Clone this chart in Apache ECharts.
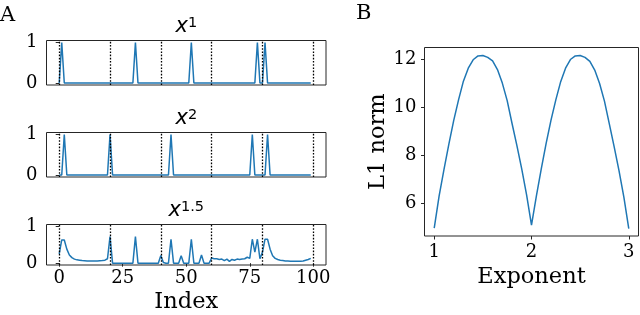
<!DOCTYPE html>
<html>
<head>
<meta charset="utf-8">
<script src="https://cdn.jsdelivr.net/npm/echarts@6/dist/echarts.min.js"></script>
<style>html,body{margin:0;padding:0;background:#fff}#c{width:640px;height:315px}</style>
</head>
<body>
<div id="c"></div>
<script>
// ---- Data ----
const indexValues = Array.from({length: 100}, (_, i) => i);
const xTickLabelsA = [0, 25, 50, 75, 100];
const yTickLabelsA = [0, 1];
const boundaryLines = [0, 20, 40, 60, 80, 100];

// x^1 : spikes
const seriesX1 = [
  0,1,0,0,0,0,0,0,0,0, 0,0,0,0,0,0,0,0,0,0,
  0,0,0,0,0,0,0,0,0,0, 1,0,0,0,0,0,0,0,0,0,
  0,0,0,0,0,0,0,0,0,0, 0,0,1,0,0,0,0,0,0,0,
  0,0,0,0,0,0,0,0,0,0, 0,0,0,0,0,0,0,0,1,0,
  0,1,0,0,0,0,0,0,0,0, 0,0,0,0,0,0,0,0,0,0
];
// x^2 : spikes
const seriesX2 = [
  0,0,1,0,0,0,0,0,0,0, 0,0,0,0,0,0,0,0,0,0,
  1,0,0,0,0,0,0,0,0,0, 0,0,0,0,0,0,0,0,0,0,
  0,0,0,0,1,0,0,0,0,0, 0,0,0,0,0,0,0,0,0,0,
  0,0,0,0,0,0,0,0,0,0, 0,0,0,0,0,0,1,0,0,0,
  0,0,1,0,0,0,0,0,0,0, 0,0,0,0,0,0,0,0,0,0
];
// x^1.5
const seriesX15 = [
  0.25,0.63,0.63,0.38,0.22,0.15,0.11,0.09,0.08,0.07,
  0.065,0.06,0.06,0.06,0.06,0.06,0.065,0.07,0.08,0.12,
  0.72,0,0,0,0,0,0,0,0,0,
  0.72,0,0,0,0,0,0,0,0,0,
  0.21,0.02,0,0,0.65,0,0,0,0.2,0,
  0,0,0.65,0,0,0,0.22,0,0,0,
  0.14,0.12,0.12,0.1,0.11,0.07,0.11,0.05,0.1,0.08,
  0.11,0.1,0.11,0.12,0.16,0.13,0.65,0.3,0.65,0.12,
  0.3,0.65,0.65,0.38,0.2,0.13,0.1,0.08,0.07,0.06,
  0.06,0.055,0.055,0.055,0.055,0.055,0.06,0.08,0.1,0.13
];

// Panel B
const exponents = Array.from({length: 41}, (_, i) => +(1 + i * 0.05).toFixed(2));
const l1Norm = [
  4.97,6.30,7.40,8.45,9.44,10.30,11.08,11.62,11.97,12.13,
  12.15,12.07,11.92,11.56,11.00,10.27,9.32,8.40,7.42,6.34,
  5.09,6.30,7.42,8.48,9.45,10.30,11.06,11.62,11.98,12.13,
  12.15,12.07,11.90,11.54,10.98,10.25,9.30,8.35,7.35,6.25,
  4.95
];
const xTickLabelsB = [1, 2, 3];
const yTickLabelsB = [6, 8, 10, 12];

// ---- Chart ----
const BLUE = '#1f77b4';
const SERIF = 'DejaVu Serif';
const TICK_FS = 18;
const NAME_FS = 22.5;
const pair = (xs, ys) => xs.map((x, i) => [x, ys[i]]);

const gridsA = [
  {left: 46.5, top: 40.5, width: 279.5, height: 44.5},
  {left: 46.5, top: 132.5, width: 279.5, height: 44.5},
  {left: 46.5, top: 224.5, width: 279.5, height: 44.5}
];
const gridB = {left: 424.5, top: 47.5, width: 214, height: 188.5};

const gridStyle = {show: true, borderColor: '#262626', borderWidth: 1, backgroundColor: 'transparent', containLabel: false};

function xAxisA(i, showLabels) {
  return {
    type: 'value', gridIndex: i, min: -5, max: 105,
    axisLine: {show: false}, splitLine: {show: false},
    axisTick: {show: showLabels, customValues: xTickLabelsA, length: 3.5, lineStyle: {color: '#262626'}},
    axisLabel: {show: showLabels, customValues: xTickLabelsA, margin: 4, fontFamily: SERIF, fontSize: TICK_FS, color: '#000'},
    name: showLabels ? 'Index' : '', nameLocation: 'middle', nameGap: 26,
    nameTextStyle: {fontFamily: SERIF, fontSize: NAME_FS, color: '#000'}
  };
}
function yAxisA(i) {
  return {
    type: 'value', gridIndex: i, min: -0.05, max: 1.05,
    axisLine: {show: false}, splitLine: {show: false},
    axisTick: {show: true, customValues: yTickLabelsA, length: 3.5, lineStyle: {color: '#262626'}},
    axisLabel: {customValues: yTickLabelsA, margin: 9, fontFamily: SERIF, fontSize: TICK_FS, color: '#000'}
  };
}
function lineSeries(i, ys) {
  return {
    type: 'line', xAxisIndex: i, yAxisIndex: i, data: pair(indexValues, ys),
    showSymbol: false, symbol: 'none', lineStyle: {color: BLUE, width: 1.5}, itemStyle: {color: BLUE},
    animation: false, silent: true,
    markLine: {
      silent: true, symbol: 'none', label: {show: false}, animation: false,
      lineStyle: {color: '#000', type: [1.6, 1.6], width: 1.3},
      data: boundaryLines.map(v => ({xAxis: v}))
    }
  };
}
function titleText(y, sup) {
  return {
    type: 'text', x: 186.3, y: y, silent: true,
    style: {
      text: '{a|x}{b|' + sup + '}', align: 'center', verticalAlign: 'middle',
      rich: {
        a: {fontFamily: 'DejaVu Sans', fontStyle: 'italic', fontSize: 21, lineHeight: 22, fill: '#000'},
        b: {fontFamily: 'DejaVu Sans', fontSize: 14.5, verticalAlign: 'top', fill: '#000'}
      }
    }
  };
}

const chart = echarts.init(document.getElementById('c'), null, {renderer: 'canvas'});
chart.setOption({
  animation: false,
  backgroundColor: '#fff',
  textStyle: {fontFamily: SERIF},
  grid: [
    Object.assign({}, gridsA[0], gridStyle),
    Object.assign({}, gridsA[1], gridStyle),
    Object.assign({}, gridsA[2], gridStyle),
    Object.assign({}, gridB, gridStyle)
  ],
  xAxis: [
    xAxisA(0, false), xAxisA(1, false), xAxisA(2, true),
    {
      type: 'value', gridIndex: 3, min: 0.9, max: 3.1,
      axisLine: {show: false}, splitLine: {show: false},
      axisTick: {customValues: xTickLabelsB, length: 3.5, lineStyle: {color: '#262626'}},
      axisLabel: {customValues: xTickLabelsB, margin: 7, fontFamily: SERIF, fontSize: TICK_FS, color: '#000'},
      name: 'Exponent', nameLocation: 'middle', nameGap: 25,
      nameTextStyle: {fontFamily: SERIF, fontSize: NAME_FS, color: '#000'}
    }
  ],
  yAxis: [
    yAxisA(0), yAxisA(1), yAxisA(2),
    {
      type: 'value', gridIndex: 3, min: 4.64, max: 12.48,
      axisLine: {show: false}, splitLine: {show: false},
      axisTick: {customValues: yTickLabelsB, length: 3.5, lineStyle: {color: '#262626'}},
      axisLabel: {customValues: yTickLabelsB, margin: 8, fontFamily: SERIF, fontSize: TICK_FS, color: '#000'},
      name: 'L1 norm', nameLocation: 'middle', nameGap: 35,
      nameTextStyle: {fontFamily: SERIF, fontSize: NAME_FS, color: '#000'}
    }
  ],
  series: [
    lineSeries(0, seriesX1),
    lineSeries(1, seriesX2),
    lineSeries(2, seriesX15),
    {
      type: 'line', xAxisIndex: 3, yAxisIndex: 3, data: pair(exponents, l1Norm),
      showSymbol: false, symbol: 'none', lineStyle: {color: BLUE, width: 1.5}, itemStyle: {color: BLUE},
      animation: false, silent: true
    }
  ],
  graphic: [
    titleText(27, '1'),
    titleText(119, '2'),
    titleText(211, '1.5'),
    {type: 'text', x: 0, y: 5, silent: true, style: {text: 'A', fontFamily: SERIF, fontSize: 21, fill: '#000', verticalAlign: 'top'}},
    {type: 'text', x: 356, y: 3, silent: true, style: {text: 'B', fontFamily: SERIF, fontSize: 21, fill: '#000', verticalAlign: 'top'}}
  ]
});
</script>
</body>
</html>
